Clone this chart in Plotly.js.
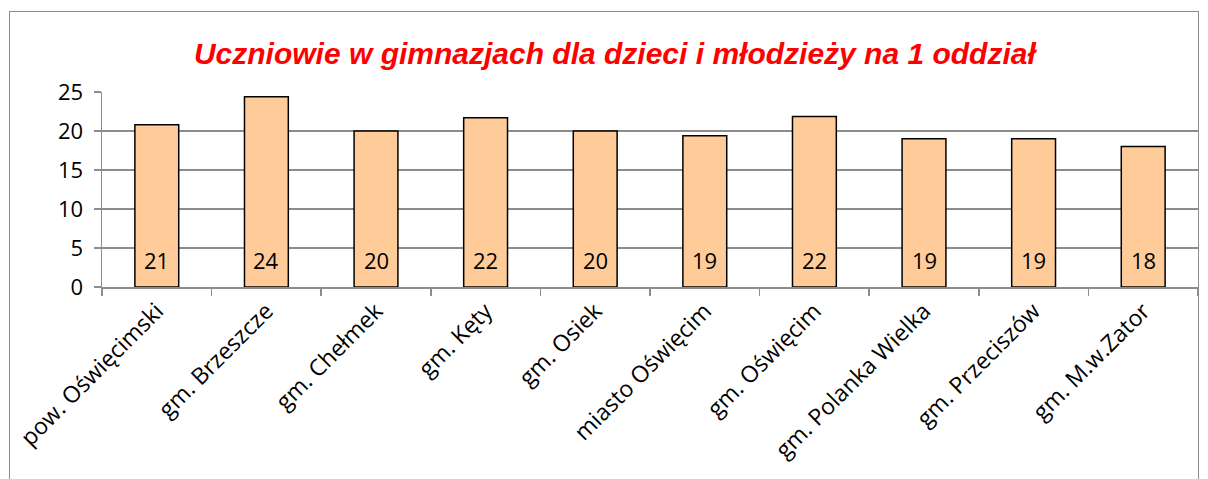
<!DOCTYPE html>
<html>
<head>
<meta charset="utf-8">
<script src="https://cdn.plot.ly/plotly-3.0.1.min.js"></script>
<style>
html,body{margin:0;padding:0;background:#fff;overflow:hidden;}
#frame{position:absolute;left:9px;top:11px;width:1190px;height:500px;border:1px solid #8c8c8c;box-sizing:border-box;}
#chart{position:absolute;left:0;top:0;width:1208px;height:479px;}
</style>
</head>
<body>
<div id="frame"></div>
<div id="chart"></div>
<script>
const categories = ["pow. Oświęcimski","gm. Brzeszcze","gm. Chełmek","gm. Kęty","gm. Osiek","miasto Oświęcim","gm. Oświęcim","gm. Polanka Wielka","gm. Przeciszów","gm. M.w.Zator"];
const values = [20.8, 24.4, 20.0, 21.7, 20.0, 19.4, 21.85, 19.0, 19.0, 18.0];
const yTicks = [0, 5, 10, 15, 20, 25];
const titleText = "Uczniowie w gimnazjach dla dzieci i młodzieży na 1 oddział";

const trace = {
  type: "bar",
  x: categories,
  y: values,
  width: 0.4,
  marker: {color: "#FFCC99", line: {color: "#000000", width: 1.5}},
  hoverinfo: "x+y"
};

// value labels placed at each bar's base (y = 0 on the axis), shifted up a little
const labelAnnotations = categories.map((c, i) => ({
  x: c, y: 0, xref: "x", yref: "y",
  text: String(Math.round(values[i])),
  showarrow: false,
  xanchor: "center", yanchor: "middle",
  yshift: 27,
  font: {family: "Open Sans, sans-serif", size: 22, color: "#000"}
}));

const layout = {
  width: 1208, height: 479,
  margin: {l: 102, r: 10, t: 92, b: 192},
  paper_bgcolor: "rgba(0,0,0,0)",
  plot_bgcolor: "rgba(0,0,0,0)",
  showlegend: false,
  title: {
    text: titleText,
    font: {family: "Liberation Sans, Arial, sans-serif", size: 30, color: "#FF0000", weight: "bold", style: "italic"},
    x: 0.509, xanchor: "center", y: 0.889, yanchor: "middle"
  },
  xaxis: {
    type: "category",
    tickson: "boundaries",
    ticks: "outside", ticklen: 7, tickcolor: "#8c8c8c", tickwidth: 1.5,
    showline: true, linecolor: "#8c8c8c", linewidth: 1.5,
    showgrid: false,
    tickangle: -45,
    tickfont: {family: "Open Sans, sans-serif", size: 23, color: "#000"}
  },
  yaxis: {
    range: [0, 25],
    tickvals: yTicks,
    ticks: "outside", ticklen: 7, tickcolor: "#8c8c8c", tickwidth: 1.5,
    ticklabelstandoff: 6,
    showline: true, linecolor: "#8c8c8c", linewidth: 1.5,
    showgrid: true, gridcolor: "#8c8c8c", gridwidth: 1.5,
    zeroline: false,
    tickfont: {family: "Open Sans, sans-serif", size: 22, color: "#000"}
  },
  annotations: labelAnnotations,
  bargap: 0.6
};

Plotly.newPlot("chart", [trace], layout, {displayModeBar: false, staticPlot: true});
</script>
</body>
</html>
